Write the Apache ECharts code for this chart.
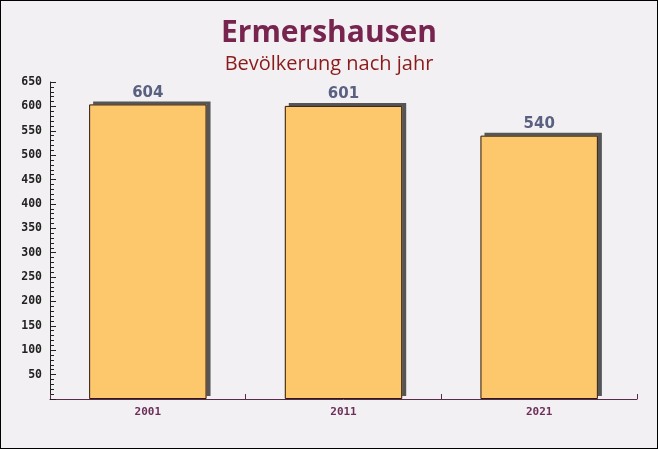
<!DOCTYPE html>
<html><head><meta charset="utf-8">
<script src="https://cdn.jsdelivr.net/npm/echarts@6/dist/echarts.min.js"></script>
<style>html,body{margin:0;padding:0;}#c{width:658px;height:449px;box-sizing:border-box;border:1px solid #000;background:#f2f0f2;}</style>
</head><body><div id="c"></div>
<script>
const categories = ['2001', '2011', '2021'];
const population = [604, 601, 540];
const titleText = 'Ermershausen';
const subtitleText = 'Bevölkerung nach jahr';

const chart = echarts.init(document.getElementById('c'));
chart.setOption({
  backgroundColor: 'transparent',
  title: {
    text: titleText, subtext: subtitleText, left: 'center', top: 12, itemGap: 6,
    textStyle: {fontFamily: 'Open Sans', fontWeight: 'bold', fontSize: 30, color: '#77254f'},
    subtextStyle: {fontFamily: 'Open Sans', fontSize: 20, color: '#8b1a1a'}
  },
  grid: {left: 49, right: 20, top: 81, bottom: 49},
  xAxis: {
    type: 'category', data: categories,
    axisLine: {lineStyle: {color: '#5a2a4a', width: 1}},
    axisTick: {show: true, inside: true, length: 5, lineStyle: {color: '#5a2a4a'}},
    axisLabel: {fontFamily: 'DejaVu Sans Mono', fontWeight: 'bold', fontSize: 11, color: '#6b2f5a', margin: 8}
  },
  yAxis: [{
    type: 'value', min: 0, max: 650, interval: 50,
    axisLine: {show: true, lineStyle: {color: '#222'}},
    axisTick: {show: true, inside: true, length: 6, lineStyle: {color: '#222'}},
    minorTick: {show: true, splitNumber: 5, length: 4, lineStyle: {color: '#222', width: 1}},
    splitLine: {show: false},
    axisLabel: {showMinLabel: false, fontFamily: 'DejaVu Sans Mono', fontWeight: 'bold', fontSize: 11.5, color: '#222', margin: 8}
  }],
  series: [{
    type: 'bar', data: population, barWidth: '60%',
    itemStyle: {color: '#fdc76c', borderWidth: 0,
      shadowColor: '#555', shadowOffsetX: 4, shadowOffsetY: -3, shadowBlur: 0},
    z: 2
  }, {
    type: 'bar', data: population, barWidth: '60%', barGap: '-100%',
    itemStyle: {color: 'rgba(0,0,0,0)', borderColor: '#2a1a1a', borderWidth: 1},
    label: {show: true, position: 'top', distance: 4, fontFamily: 'DejaVu Sans', fontWeight: 'bold', fontSize: 15, color: '#5a6080'},
    z: 3
  }]
});
</script></body></html>
